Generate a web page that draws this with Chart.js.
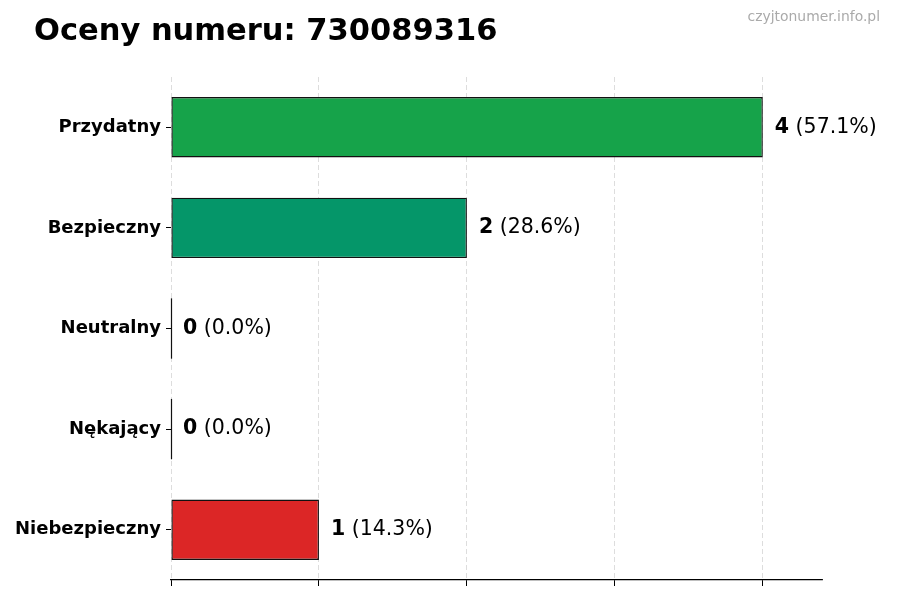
<!DOCTYPE html>
<html>
<head>
<meta charset="utf-8">
<script src="https://cdn.jsdelivr.net/npm/chart.js@4.4.1/dist/chart.umd.min.js"></script>
<style>
  html, body { margin: 0; padding: 0; background: #fff; }
  #wrap { width: 900px; height: 600px; }
</style>
</head>
<body>
<div id="wrap"><canvas id="chart" width="900" height="600"></canvas></div>
<script>
// chart data
const categories = ['Przydatny', 'Bezpieczny', 'Neutralny', 'Nękający', 'Niebezpieczny'];
const counts = [4, 2, 0, 0, 1];
const percents = ['57.1', '28.6', '0.0', '0.0', '14.3'];
const barColors = ['#16a34a', '#059669', '#6b7280', '#ea580c', '#dc2626'];
const xTicks = [0, 1, 2, 3, 4];
const titleText = 'Oceny numeru: 730089316';
const siteText = 'czyjtonumer.info.pl';

const FONT = "'DejaVu Sans', sans-serif";

// title, watermark, value labels + thin edge for zero-length bars
const barLabels = {
    id: 'barLabels',
    afterDatasetsDraw(chart) {
        const ctx = chart.ctx;
        const meta = chart.getDatasetMeta(0);
        ctx.save();
        meta.data.forEach((bar, i) => {
            const { x, y, height } = bar.getProps(['x', 'y', 'height'], true);
            if (counts[i] === 0) {
                ctx.strokeStyle = '#111';
                ctx.lineWidth = 1.2;
                ctx.beginPath();
                ctx.moveTo(Math.round(x) + 0.5, y - height / 2);
                ctx.lineTo(Math.round(x) + 0.5, y + height / 2);
                ctx.stroke();
            }
            const tx = x + 12;
            ctx.textBaseline = 'middle';
            ctx.textAlign = 'left';
            ctx.fillStyle = '#000';
            ctx.font = 'bold 20.5px ' + FONT;
            const num = String(counts[i]);
            ctx.fillText(num, tx, y);
            const w = ctx.measureText(num).width;
            ctx.font = '20.5px ' + FONT;
            ctx.fillText(' (' + percents[i] + '%)', tx + w, y);
        });
        ctx.restore();
    },
    afterDraw(chart) {
        const ctx = chart.ctx;
        ctx.save();
        ctx.font = 'bold 30.5px ' + FONT;
        ctx.fillStyle = '#000';
        ctx.textAlign = 'left';
        ctx.textBaseline = 'alphabetic';
        ctx.fillText(titleText, 34, 40);
        ctx.font = '13.9px ' + FONT;
        ctx.fillStyle = '#aaaaaa';
        ctx.textAlign = 'right';
        ctx.textBaseline = 'middle';
        ctx.fillText(siteText, 880, 17);
        ctx.restore();
    }
};

new Chart(document.getElementById('chart'), {
    type: 'bar',
    data: {
        labels: categories,
        datasets: [{
            data: counts,
            backgroundColor: barColors,
            borderColor: '#111',
            borderWidth: 1.4,
            borderSkipped: false,
            barPercentage: 0.6,
            categoryPercentage: 1.0
        }]
    },
    options: {
        indexAxis: 'y',
        responsive: false,
        animation: false,
        devicePixelRatio: 1,
        layout: { padding: { left: 0, right: 78, top: 77, bottom: 0 } },
        plugins: {
            legend: { display: false },
            tooltip: { enabled: false },
            title: { display: false }
        },
        scales: {
            x: {
                min: 0,
                max: 4.4,
                afterBuildTicks(scale) {
                    scale.ticks = xTicks.map(v => ({ value: v }));
                },
                afterFit(scale) { scale.height = 20; },
                ticks: { display: false },
                grid: {
                    color: '#d4d4d4',
                    lineWidth: 0.8,
                    drawTicks: true,
                    tickLength: 6,
                    tickColor: '#000',
                    tickWidth: 1
                },
                border: { display: true, color: '#000', width: 1.2, dash: [5, 3] }
            },
            y: {
                afterFit(scale) { scale.width = 171; },
                ticks: {
                    color: '#000',
                    padding: 5,
                    font: { family: FONT, size: 18, weight: 'bold' }
                },
                grid: {
                    offset: false,
                    drawOnChartArea: false,
                    drawTicks: true,
                    tickLength: 5,
                    tickColor: '#000',
                    tickWidth: 1
                },
                border: { display: false }
            }
        }
    },
    plugins: [barLabels]
});
</script>
</body>
</html>
